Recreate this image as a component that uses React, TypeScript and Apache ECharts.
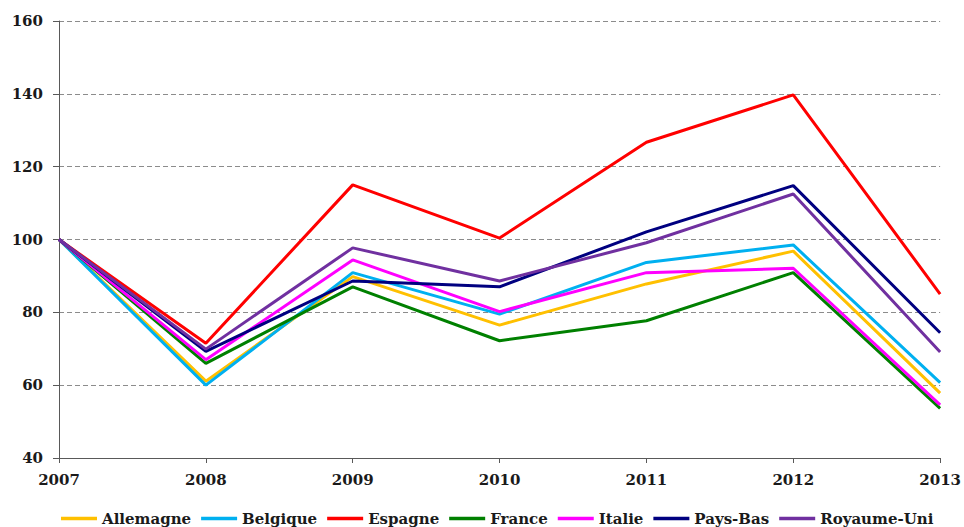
import React, { useEffect, useRef } from "react";
import * as echarts from "echarts";

const years = ["2007", "2008", "2009", "2010", "2011", "2012", "2013"];
const allemagne = [100, 61.1, 89.8, 76.5, 87.8, 96.8, 57.8];
const belgique = [100, 60.0, 90.9, 79.5, 93.7, 98.5, 60.7];
const espagne = [100, 71.5, 115.0, 100.4, 126.7, 139.7, 85.0];
const france = [100, 66.0, 87.0, 72.2, 77.7, 90.9, 53.6];
const italie = [100, 67.0, 94.4, 80.2, 90.9, 92.1, 54.6];
const paysBas = [100, 69.3, 88.6, 87.0, 102.1, 114.8, 74.4];
const royaumeUni = [100, 69.9, 97.7, 88.6, 99.1, 112.5, 69.1];

const seriesDefs = [
  { name: "Allemagne", data: allemagne, color: "#FFC000" },
  { name: "Belgique", data: belgique, color: "#00B0F0" },
  { name: "Espagne", data: espagne, color: "#FF0000" },
  { name: "France", data: france, color: "#008000" },
  { name: "Italie", data: italie, color: "#FF00FF" },
  { name: "Pays-Bas", data: paysBas, color: "#000080" },
  { name: "Royaume-Uni", data: royaumeUni, color: "#7030A0" },
];

const FONT = "DejaVu Serif";

export default function App() {
  const ref = useRef<HTMLDivElement>(null);
  useEffect(() => {
    if (!ref.current) return;
    const chart = echarts.init(ref.current, null, { renderer: "svg" });
    chart.setOption({
      animation: false,
      backgroundColor: "#ffffff",
      grid: { left: 59, right: 22, top: 21, bottom: 69, containLabel: false },
      legend: {
        left: 56,
        top: 506,
        itemWidth: 36,
        itemHeight: 14,
        itemGap: 10,
        icon: "path://M0,5 L40,5 L40,9 L0,9 Z",
        textStyle: { fontFamily: FONT, fontWeight: "bold", fontSize: 15, color: "#1a1a1a" },
        data: seriesDefs.map((s) => s.name),
      },
      xAxis: {
        type: "category",
        data: years,
        boundaryGap: false,
        axisLine: { show: true, lineStyle: { color: "#595959", width: 1 } },
        axisTick: { show: true, length: 5, lineStyle: { color: "#595959" } },
        axisLabel: {
          margin: 14,
          fontFamily: FONT,
          fontWeight: "bold",
          fontSize: 15,
          color: "#1a1a1a",
        },
        splitLine: { show: false },
      },
      yAxis: {
        type: "value",
        min: 40,
        max: 160,
        interval: 20,
        axisLine: { show: true, lineStyle: { color: "#595959", width: 1 } },
        axisTick: { show: true, length: 6, lineStyle: { color: "#595959" } },
        axisLabel: {
          margin: 16,
          fontFamily: FONT,
          fontWeight: "bold",
          fontSize: 15,
          color: "#1a1a1a",
        },
        splitLine: {
          show: true,
          lineStyle: { color: "#8c8c8c", width: 1, type: [5, 3] },
        },
      },
      series: seriesDefs.map((s) => ({
        name: s.name,
        type: "line",
        data: s.data,
        symbol: "none",
        color: s.color,
        lineStyle: { color: s.color, width: 3 },
        itemStyle: { color: s.color },
      })),
    });
    return () => chart.dispose();
  }, []);
  return (
    <div
      ref={ref}
      style={{ position: "fixed", left: 0, top: 0, width: 964, height: 527 }}
    />
  );
}
